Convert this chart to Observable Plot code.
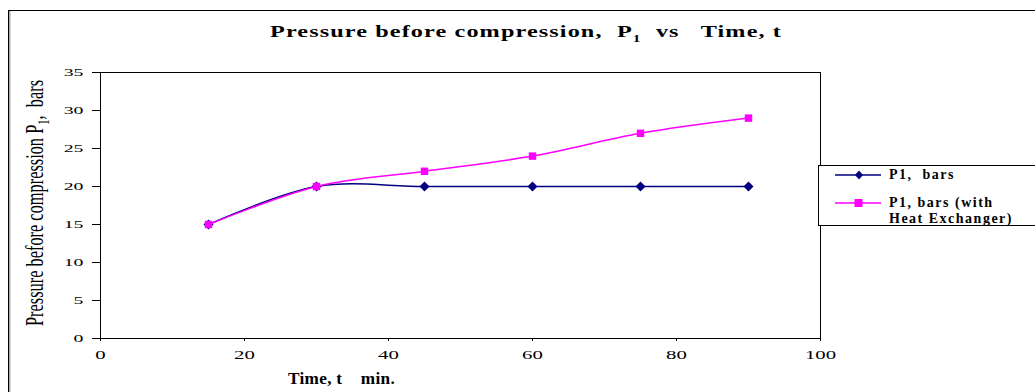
<!DOCTYPE html>
<html>
<head>
<meta charset="utf-8">
<script src="https://cdn.jsdelivr.net/npm/d3@7"></script>
<script src="https://cdn.jsdelivr.net/npm/@observablehq/plot@0.6"></script>
<style>
  html, body { margin: 0; padding: 0; background: #fff; }
  #wrap { position: relative; width: 1035px; height: 392px; overflow: hidden; font-family: "Liberation Serif", "Times New Roman", serif; }
  #border { position: absolute; left: 8px; top: 10px; width: 1100px; height: 500px;
            border-left: 1.5px solid #000; border-top: 1.5px solid #000; box-shadow: inset 1.5px 0 0 #aaa; }
  #chart { position: absolute; left: 0; top: 0; }
  #chart svg text { font-family: "Liberation Serif", "Times New Roman", serif; }
  .title { position: absolute; font-weight: bold; white-space: nowrap; line-height: 20px; }
  #title { font-size: 17.5px; letter-spacing: 0.8px; }
  #xlab { font-size: 17px; letter-spacing: 0.3px; }
  #ylab { position: absolute; font-size: 25px; white-space: nowrap; transform-origin: 0 0; line-height: 26px; }
  #legend { position: absolute; left: 818px; top: 165px; width: 300px; height: 59px;
            border: 1px solid #000; background: #fff; }
  .leg { position: absolute; font-weight: bold; font-size: 14px; letter-spacing: 1.5px; white-space: nowrap; line-height: 16px; }
</style>
</head>
<body>
<div id="wrap">
  <div id="border"></div>
  <div id="chart"></div>
  <div class="title" id="title">Pressure before compression,&nbsp; P<sub style="font-size:11px">1</sub>&nbsp; vs &nbsp; Time, t</div>
  <div class="title" id="xlab">Time, t &nbsp;&nbsp; min.</div>
  <div id="ylab">Pressure before compression P<sub style="font-size:16px">1</sub>,&nbsp; bars</div>
  <div id="legend">
    <svg width="64" height="59" style="position:absolute;left:0;top:0">
      <line x1="16" x2="62" y1="9" y2="9" stroke="#000080" stroke-width="1.5"/>
      <path d="M40,4.5 L44,9 L40,13.5 L36,9 Z" fill="#000080"/>
      <line x1="16" x2="62" y1="37" y2="37" stroke="#ff00ff" stroke-width="1.5"/>
      <rect x="35.5" y="33" width="8" height="8" fill="#ff00ff"/>
    </svg>
    <div class="leg" style="left:70px;top:1px">P1,&nbsp; bars</div>
    <div class="leg" style="left:70px;top:29px">P1, bars (with<br>Heat Exchanger)</div>
  </div>
</div>
<script>
// Time (min) and pressure before compression (bars)
const time = [15, 30, 45, 60, 75, 90];
const p1 = [15, 20, 20, 20, 20, 20];
const p1HeatExchanger = [15, 20, 22, 24, 27, 29];
const seriesNames = ["P1,  bars", "P1, bars (with Heat Exchanger)"];
const xTicks = [0, 20, 40, 60, 80, 100];
const yTicks = [0, 5, 10, 15, 20, 25, 30, 35];

const rowsA = time.map((t, i) => ({t, p: p1[i], s: seriesNames[0]}));
const rowsB = time.map((t, i) => ({t, p: p1HeatExchanger[i], s: seriesNames[1]}));

const chart = Plot.plot({
  width: 1035,
  height: 392,
  marginLeft: 100,
  marginRight: 215,
  marginTop: 72,
  marginBottom: 54,
  style: {fontFamily: "'Liberation Serif', 'Times New Roman', serif", fontSize: "12px", color: "#000", background: "transparent", overflow: "visible"},
  x: {domain: [0, 100], ticks: xTicks},
  y: {domain: [0, 35], ticks: yTicks},
  marks: [
    Plot.frame({stroke: "#000", strokeWidth: 1}),
    Plot.axisX({ticks: xTicks, tickSize: 3, tickPadding: 8, fontSize: 13, label: null, stroke: "#000"}),
    Plot.axisY({ticks: yTicks, tickSize: 8, tickPadding: 9, fontSize: 11, label: null, stroke: "#000"}),
    Plot.line(rowsA, {x: "t", y: "p", stroke: "#000080", strokeWidth: 1.5, curve: "catmull-rom"}),
    Plot.dot(rowsA, {x: "t", y: "p", symbol: "diamond2", r: 4.5, fill: "#000080", stroke: "none"}),
    Plot.line(rowsB, {x: "t", y: "p", stroke: "#ff00ff", strokeWidth: 1.5, curve: "catmull-rom"}),
    Plot.dot(rowsB, {x: "t", y: "p", symbol: "square", r: 4.2, fill: "#ff00ff", stroke: "none"})
  ]
});
document.getElementById("chart").appendChild(chart);

// widen the tick label glyphs horizontally about their anchor points
function widen(selector, sx) {
  d3.select(chart).selectAll(selector).each(function () {
    const el = d3.select(this);
    let t = el.attr("transform") || "";
    const x = +(el.attr("x") || 0), y = +(el.attr("y") || 0);
    if (x || y) {
      t += ` translate(${x},${y})`;
      el.attr("x", null).attr("y", null);
    }
    el.attr("transform", `${t} scale(${sx},1)`);
  });
}
widen("g[aria-label='x-axis tick label'] text", 1.6);
widen("g[aria-label='y-axis tick label'] text", 1.8);

// place and fit the text blocks
function fit(el, left, right, top) {
  const w = el.getBoundingClientRect().width;
  el.style.transformOrigin = "0 0";
  el.style.transform = `scaleX(${(right - left) / w})`;
  el.style.left = left + "px";
  el.style.top = top + "px";
}
fit(document.getElementById("title"), 270, 782, 21);
fit(document.getElementById("xlab"), 288, 395, 369);

const yl = document.getElementById("ylab");
const yw = yl.getBoundingClientRect().width;
const target = 246;
yl.style.left = "22px";
yl.style.top = (80 + target) + "px";
yl.style.transform = `rotate(-90deg) scaleX(${target / yw})`;
</script>
</body>
</html>
